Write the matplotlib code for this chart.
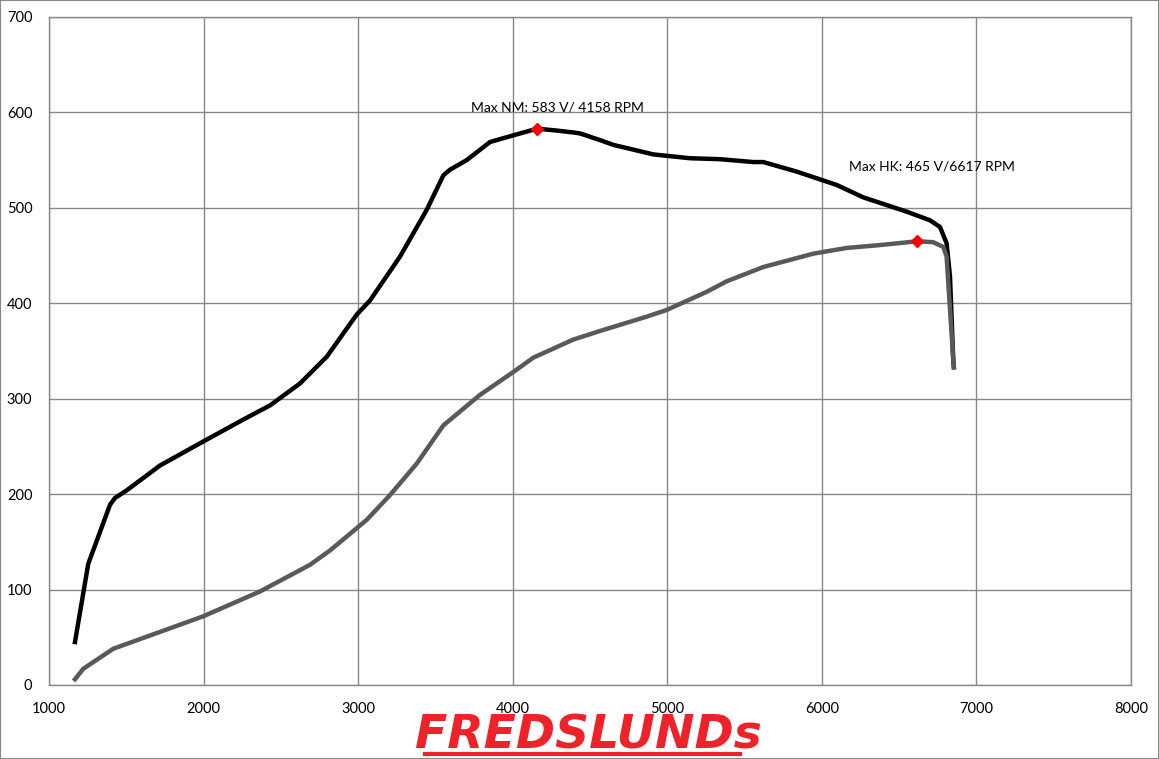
import matplotlib.pyplot as plt
from matplotlib.patches import Rectangle
from matplotlib.lines import Line2D

# Torque (NM) curve
rpm_nm = [1168, 1254, 1395, 1427, 1503, 1718, 1996, 2255, 2430, 2624, 2797, 2990,
          3077, 3271, 3444, 3551, 3594, 3702, 3853, 4004, 4158, 4285, 4392, 4435,
          4565, 4651, 4910, 5147, 5341, 5557, 5621, 5837, 6096, 6268, 6549, 6699,
          6764, 6807, 6829, 6850, 6854]
nm = [45, 127, 189, 196, 204, 230, 255, 278, 293, 316, 344, 388,
      403, 449, 498, 534, 540, 550, 569, 576, 583, 581, 579, 578,
      571, 566, 556, 552, 551, 548, 548, 538, 524, 511, 496, 487,
      480, 463, 428, 341, 333]

# Power (HK) curve
rpm_hk = [1168, 1222, 1416, 1998, 2365, 2689, 2818, 3055, 3206, 3379, 3551, 3788,
          4004, 4133, 4392, 4565, 4867, 4996, 5255, 5384, 5621, 5945, 6161, 6376,
          6617, 6721, 6786, 6807, 6850, 6854]
hk = [6, 17, 38, 72, 98, 126, 141, 173, 199, 232, 272, 304,
      328, 343, 362, 371, 386, 393, 412, 423, 438, 452, 458, 461,
      465, 464, 459, 449, 341, 333]

max_nm = (4158, 583)
max_hk = (6617, 465)

plt.rcParams['font.family'] = ['Lato', 'DejaVu Sans']

fig = plt.figure(figsize=(11.59, 7.59), dpi=100)
ax = fig.add_axes([49 / 1159, 1 - 685 / 759, (1131 - 49) / 1159, (685 - 17) / 759])

ax.plot(rpm_nm, nm, color='black', lw=3.2, solid_joinstyle='round', zorder=3)
ax.plot(rpm_hk, hk, color='#595959', lw=3.2, solid_joinstyle='round', zorder=3)
ax.plot(*max_nm, marker='D', color='#ff0000', ms=6, zorder=4)
ax.plot(*max_hk, marker='D', color='#ff0000', ms=6, zorder=4)

ax.text(4290, 605, 'Max NM: 583 V/ 4158 RPM', ha='center', va='center', fontsize=10)
ax.text(6712, 543, 'Max HK: 465 V/6617 RPM', ha='center', va='center', fontsize=10)

ax.set_xlim(1000, 8000)
ax.set_ylim(0, 700)
ax.set_xticks(range(1000, 8001, 1000))
ax.set_yticks(range(0, 701, 100))
ax.grid(True, color='#888888', lw=1)
ax.set_axisbelow(True)
for s in ax.spines.values():
    s.set_color('#888888')
    s.set_linewidth(1)
ax.tick_params(length=0, labelsize=10.5, pad=12)

# logo
fig.text(588 / 1159, 1 - 736 / 759, 'FREDSLUNDs', color='#ee2229', fontsize=34,
         fontweight='heavy', fontstyle='italic', family='DejaVu Sans',
         ha='center', va='center')
fig.add_artist(Line2D([425 / 1159, 740 / 1159], [1 - 754 / 759] * 2,
                      color='#ee2229', lw=3))

fig.add_artist(Rectangle((0, 0), 1, 1, transform=fig.transFigure, fill=False,
                         edgecolor='#888888', lw=1.5))

fig.savefig('out.png', dpi=100)
